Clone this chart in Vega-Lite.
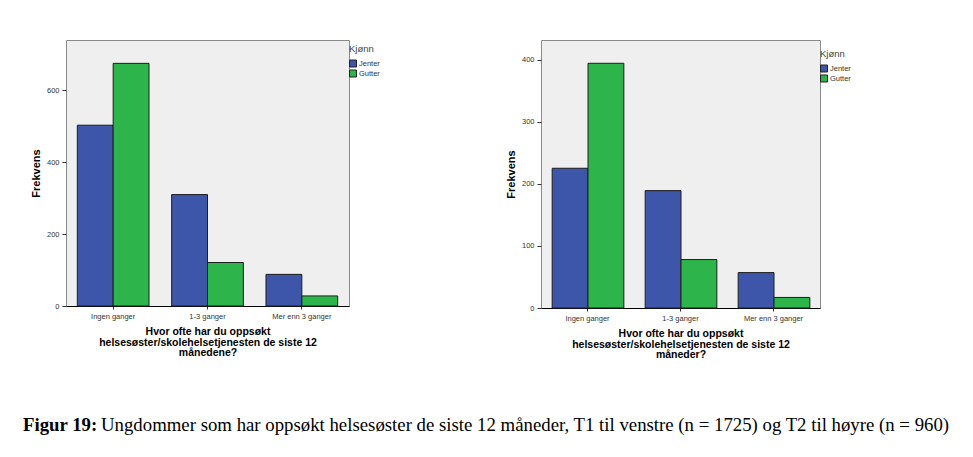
{
  "$schema": "https://vega.github.io/schema/vega-lite/v6.json",
  "padding": {"left": 23, "top": 39, "right": 0, "bottom": 0},
  "background": "white",
  "datasets": {
    "t1": [
      {"kategori": "Ingen ganger", "kjonn": "Jenter", "antall": 503},
      {"kategori": "Ingen ganger", "kjonn": "Gutter", "antall": 675},
      {"kategori": "1-3 ganger", "kjonn": "Jenter", "antall": 310},
      {"kategori": "1-3 ganger", "kjonn": "Gutter", "antall": 121},
      {"kategori": "Mer enn 3 ganger", "kjonn": "Jenter", "antall": 88},
      {"kategori": "Mer enn 3 ganger", "kjonn": "Gutter", "antall": 28}
    ],
    "t2": [
      {"kategori": "Ingen ganger", "kjonn": "Jenter", "antall": 225},
      {"kategori": "Ingen ganger", "kjonn": "Gutter", "antall": 394},
      {"kategori": "1-3 ganger", "kjonn": "Jenter", "antall": 189},
      {"kategori": "1-3 ganger", "kjonn": "Gutter", "antall": 78},
      {"kategori": "Mer enn 3 ganger", "kjonn": "Jenter", "antall": 57},
      {"kategori": "Mer enn 3 ganger", "kjonn": "Gutter", "antall": 17}
    ],
    "caption": [
      {"bold": "Figur 19:", "tekst": "Ungdommer som har oppsøkt helsesøster de siste 12 måneder, T1 til venstre (n = 1725) og T2 til høyre (n = 960)"}
    ]
  },
  "vconcat": [
    {
      "hconcat": [
        {
          "width": 283,
          "height": 266,
          "data": {"name": "t1"},
          "mark": {"type": "bar", "stroke": "#1e1e1e", "strokeWidth": 1},
          "encoding": {
            "x": {
              "field": "kategori", "type": "nominal",
              "sort": ["Ingen ganger", "1-3 ganger", "Mer enn 3 ganger"],
              "scale": {"paddingInner": 0.24, "paddingOuter": 0.12},
              "axis": {"title": ["Hvor ofte har du oppsøkt", "helsesøster/skolehelsetjenesten de siste 12", "månedene?"]}
            },
            "xOffset": {"field": "kjonn", "type": "nominal", "sort": ["Jenter", "Gutter"]},
            "y": {
              "field": "antall", "type": "quantitative",
              "scale": {"domain": [0, 740], "nice": false},
              "axis": {"title": "Frekvens", "values": [0, 200, 400, 600]}
            },
            "color": {
              "field": "kjonn", "type": "nominal",
              "scale": {"domain": ["Jenter", "Gutter"], "range": ["#3E56A9", "#2DB54B"]},
              "legend": {"title": "Kjønn"}
            }
          }
        },
        {
          "width": 279,
          "height": 268,
          "data": {"name": "t2"},
          "mark": {"type": "bar", "stroke": "#1e1e1e", "strokeWidth": 1},
          "encoding": {
            "x": {
              "field": "kategori", "type": "nominal",
              "sort": ["Ingen ganger", "1-3 ganger", "Mer enn 3 ganger"],
              "scale": {"paddingInner": 0.24, "paddingOuter": 0.12},
              "axis": {"title": ["Hvor ofte har du oppsøkt", "helsesøster/skolehelsetjenesten de siste 12", "måneder?"]}
            },
            "xOffset": {"field": "kjonn", "type": "nominal", "sort": ["Jenter", "Gutter"]},
            "y": {
              "field": "antall", "type": "quantitative",
              "scale": {"domain": [0, 431.5], "nice": false},
              "axis": {"title": "Frekvens", "values": [0, 100, 200, 300, 400]}
            },
            "color": {
              "field": "kjonn", "type": "nominal",
              "scale": {"domain": ["Jenter", "Gutter"], "range": ["#3E56A9", "#2DB54B"]},
              "legend": {"title": "Kjønn", "orient": "none", "legendX": 275, "legendY": 5}
            }
          }
        }
      ],
      "spacing": 119,
      "resolve": {"scale": {"color": "independent"}, "legend": {"color": "independent"}}
    },
    {
      "width": 900,
      "height": 20,
      "data": {"name": "caption"},
      "view": {"stroke": null, "fill": null},
      "layer": [
        {
          "mark": {"type": "text", "align": "left", "baseline": "middle", "font": "Liberation Serif", "fontSize": 18.8, "fontWeight": "bold", "color": "#000"},
          "encoding": {"text": {"field": "bold"}, "x": {"value": -43}, "y": {"value": 10}}
        },
        {
          "mark": {"type": "text", "align": "left", "baseline": "middle", "font": "Liberation Serif", "fontSize": 18.8, "color": "#000"},
          "encoding": {"text": {"field": "tekst"}, "x": {"value": 35}, "y": {"value": 10}}
        }
      ]
    }
  ],
  "spacing": 54,
  "config": {
    "view": {"fill": "#EFEFEF", "stroke": "#8a8a8a", "strokeWidth": 1},
    "axis": {
      "labelFont": "Liberation Sans", "labelFontSize": 7.5, "labelColor": "#333333",
      "titleFont": "Liberation Sans", "titleFontSize": 11, "titleFontWeight": "bold", "titleColor": "#000000",
      "tickColor": "#333333", "grid": false
    },
    "axisX": {"labelAngle": 0, "domain": true, "domainColor": "#000000", "tickSize": 3, "labelPadding": 3, "titlePadding": 7, "titleFontSize": 10.5, "titleLineHeight": 10.5},
    "axisY": {"domain": false, "tickSize": 4, "labelPadding": 3, "titlePadding": 5},
    "legend": {
      "titleFont": "Liberation Sans", "titleFontSize": 9.5, "titleFontWeight": "normal", "titleColor": "#444444",
      "labelFont": "Liberation Sans", "labelFontSize": 7.5, "labelColor": "#333333",
      "symbolType": "square", "symbolSize": 49, "symbolStrokeColor": "#222222", "symbolStrokeWidth": 1, "symbolOpacity": 1,
      "rowPadding": -4, "labelOffset": 2, "titlePadding": 6, "offset": -4, "padding": 4
    }
  }
}
